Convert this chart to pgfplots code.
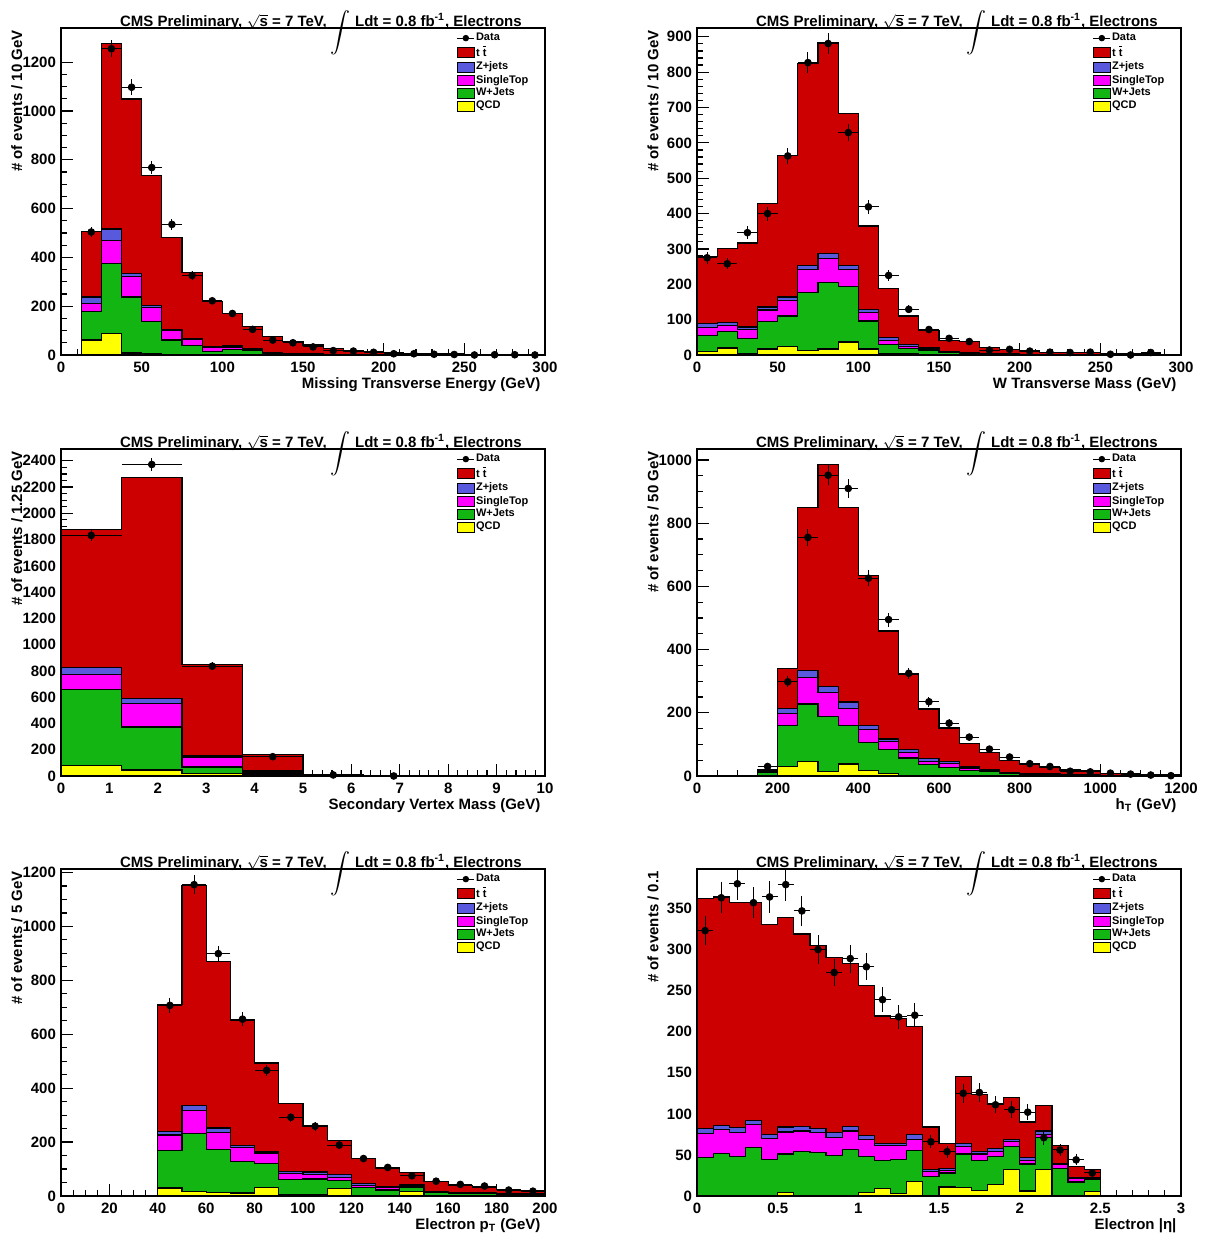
\documentclass[border=0pt]{standalone}
\usepackage{fontspec}
\setmainfont{Liberation Sans}
\usepackage{pgfplots}
\usepackage{pgfplotstable}
\pgfplotsset{compat=1.18}
\definecolor{ttred}{RGB}{204,0,0}
\definecolor{zblue}{RGB}{89,89,222}
\definecolor{stmag}{RGB}{255,0,255}
\definecolor{wgreen}{RGB}{19,181,19}
\definecolor{qyel}{RGB}{255,255,0}

\newcommand{\lfont}{\bfseries\fontsize{7.5}{8}\selectfont}

\pgfplotsset{
 cms/.style={
  scale only axis, width=242pt, height=163.5pt, anchor=south west,
  axis line style={line width=0.7pt},
  tick align=inside, xtick pos=bottom, ytick pos=left,
  major tick length=6pt, minor tick length=3pt,
  tick style={line width=0.6pt, black},
  scaled ticks=false,
  /pgf/number format/1000 sep={},
  /pgf/number format/assume math mode=true,
  tick label style={font=\lfont},
  yticklabel style={xshift=1pt},
  every axis y label/.style={at={(axis description cs:-0.091,1.015)}, rotate=90, anchor=east, font=\lfont},
  every axis x label/.style={at={(axis description cs:1.005,-0.09)}, anchor=east, font=\lfont},
  every axis title shift=0pt,
  title style={at={(axis description cs:0.537,1)}, anchor=base, yshift=0.8pt, inner sep=0pt, font=\lfont},
  title={CMS Preliminary, $\sqrt{\mbox{s}}$ = 7 TeV, \raisebox{-4.8pt}{$\displaystyle\int$} Ldt = 0.8 fb\textsuperscript{-1}, Electrons},
  legend style={draw=none, fill=none, at={(axis description cs:0.817,0.99)}, anchor=north west,
    font=\bfseries\fontsize{5.5}{6}\selectfont, row sep=-0.1pt, inner sep=0pt, nodes={inner sep=0.6pt}},
  legend cell align=left,
  clip=false,
  ymin=0,
 },
 hist/.style={const plot mark left, draw=black, line width=0.6pt, fill=#1, mark=none, forget plot},
 dat/.style={only marks, mark=*, mark size=1.7pt, black, forget plot,
   error bars/.cd, x dir=both, x explicit, y dir=both, y explicit, error mark=none,
   error bar style={line width=0.5pt, black}},
}

\newcommand{\cmslegend}{%
 \addlegendimage{legend image code/.code={\draw[black,line width=0.5pt] (0pt,0pt)--(8.5pt,0pt); \fill[black] (4.25pt,0pt) circle (1.4pt);}}
 \addlegendentry{Data}
 \addlegendimage{legend image code/.code={\draw[fill=ttred,draw=black,line width=0.5pt] (0pt,-2.5pt) rectangle (8.5pt,2.5pt);}}
 \addlegendentry{t $\overline{\mbox{t}}$}
 \addlegendimage{legend image code/.code={\draw[fill=zblue,draw=black,line width=0.5pt] (0pt,-2.5pt) rectangle (8.5pt,2.5pt);}}
 \addlegendentry{Z+jets}
 \addlegendimage{legend image code/.code={\draw[fill=stmag,draw=black,line width=0.5pt] (0pt,-2.5pt) rectangle (8.5pt,2.5pt);}}
 \addlegendentry{SingleTop}
 \addlegendimage{legend image code/.code={\draw[fill=wgreen,draw=black,line width=0.5pt] (0pt,-2.5pt) rectangle (8.5pt,2.5pt);}}
 \addlegendentry{W+Jets}
 \addlegendimage{legend image code/.code={\draw[fill=qyel,draw=black,line width=0.5pt] (0pt,-2.5pt) rectangle (8.5pt,2.5pt);}}
 \addlegendentry{QCD}
}

\newcommand{\stack}[1]{%
 \addplot[hist=ttred] table[x=e,y=tot]{#1} \closedcycle;
 \addplot[hist=zblue] table[x=e,y=z]{#1} \closedcycle;
 \addplot[hist=stmag] table[x=e,y=st]{#1} \closedcycle;
 \addplot[hist=wgreen] table[x=e,y=w]{#1} \closedcycle;
 \addplot[hist=qyel] table[x=e,y=q]{#1} \closedcycle;
}

% ---------- MET ----------
\pgfplotstableread{
e tot z st w q
12.5 507 238 211 177 61
25 1276 516 470 376 87
37.5 1049 335 320 238 8
50 737 203 193 136 6
62.5 481 105 100 61 2
75 337 68 64 38 1
87.5 218 34 32 14 1
100 170 37 31 23 0
112.5 117 26 23 19 0
125 75 8 6 5 0
137.5 56 5 4 3 0
150 41 4 3 2 0
162.5 27 3 2 2 0
175 20 2 2 1 0
187.5 14 2 1 1 0
200 10 1 1 1 0
212.5 7 1 1 0 0
225 5 1 0 0 0
237.5 4 0 0 0 0
250 3 0 0 0 0
262.5 2 0 0 0 0
275 2 0 0 0 0
287.5 1 0 0 0 0
300 1 0 0 0 0
}\metS
\pgfplotstableread{
x y ex ey
18.75 504 6.25 22.4
31.25 1255 6.25 35.4
43.75 1097 6.25 33.1
56.25 768 6.25 27.7
68.75 535 6.25 23.1
81.25 326 6.25 18.1
93.75 222 6.25 14.9
106.25 170 6.25 13.0
118.75 105 6.25 10.2
131.25 61 6.25 7.8
143.75 50 6.25 7.1
156.25 33 6.25 5.7
168.75 18 6.25 4.2
181.25 16 6.25 4.0
193.75 11 6.25 3.3
206.25 5 6.25 2.2
218.75 5 6.25 2.2
231.25 3 6.25 1.7
243.75 2 6.25 1.4
256.25 0 6.25 0
268.75 1 6.25 1
281.25 1 6.25 1
293.75 0 6.25 0
}\metD

% ---------- MT ----------
\pgfplotstableread{
e tot z st w q
0 278 90 77 56 10
12.5 302 93 84 66 20
25 317 79 71 47 4
37.5 429 136 127 94 17
50 565 164 155 110 24
62.5 825 253 241 176 12
75 884 288 273 205 17
87.5 683 252 242 193 37
100 365 128 121 96 17
112.5 188 49 42 30 3
125 110 29 24 19 4
137.5 70 20 16 14 1
150 42 9 8 6 0
162.5 38 7 5 4 0
175 22 5 4 3 0
187.5 16 3 3 2 0
200 11 2 2 1 0
212.5 8 2 1 1 0
225 7 1 1 0 0
237.5 6 1 0 0 0
250 4 0 0 0 0
262.5 4 0 0 0 0
275 3 0 0 0 0
287.5 2 0 0 0 0
300 2 0 0 0 0
}\mtS
\pgfplotstableread{
x y ex ey
6.25 275 6.25 16.6
18.75 258 6.25 16.1
31.25 346 6.25 18.6
43.75 400 6.25 20.0
56.25 563 6.25 23.7
68.75 827 6.25 28.8
81.25 881 6.25 29.7
93.75 629 6.25 25.1
106.25 419 6.25 20.5
118.75 225 6.25 15.0
131.25 129 6.25 11.4
143.75 72 6.25 8.5
156.25 47 6.25 6.9
168.75 38 6.25 6.2
181.25 14 6.25 3.7
193.75 16 6.25 4.0
206.25 11 6.25 3.3
218.75 8 6.25 2.8
231.25 7 6.25 2.6
243.75 8 6.25 2.8
256.25 2 6.25 1.4
268.75 0 6.25 0
281.25 7 6.25 2.6
}\mtD

% ---------- SV mass ----------
\pgfplotstableread{
e tot z st w q
0 1875 829 770 656 79
1.25 2271 588 552 373 46
2.5 851 152 139 68 18
3.75 162 43 35 23 8
5 8 3 2 1 0
6.25 2 0 0 0 0
7.5 0 0 0 0 0
8.75 0 0 0 0 0
10 0 0 0 0 0
}\svS
\pgfplotstableread{
x y ex ey
0.625 1832 0.625 42.8
1.875 2372 0.625 48.7
3.125 836 0.625 28.9
4.375 147 0.625 12.1
5.625 8 0.625 2.8
6.875 0 0.625 0
}\svD

% ---------- HT ----------
\pgfplotstableread{
e tot z st w q
150 20 18 15 12 0
200 340 214 199 160 30
250 849 335 312 228 46
300 986 282 264 189 15
350 849 234 213 160 38
400 634 159 146 106 18
450 459 117 108 85 9
500 320 83 75 57 2
550 212 55 47 37 0
600 152 46 39 28 0
650 102 29 25 18 0
700 74 20 17 13 0
750 48 12 9 8 0
800 37 8 7 6 0
850 26 6 5 4 0
900 19 4 3 3 0
950 16 3 2 2 0
1000 9 2 2 1 0
1050 7 1 1 1 0
1100 5 1 1 0 0
1150 4 0 0 0 0
1200 4 0 0 0 0
}\htS
\pgfplotstableread{
x y ex ey
175 30 25 5.5
225 298 25 17.3
275 755 25 27.5
325 952 25 30.9
375 910 25 30.2
425 626 25 25.0
475 495 25 22.2
525 325 25 18.0
575 235 25 15.3
625 167 25 12.9
675 123 25 11.1
725 85 25 9.2
775 60 25 7.7
825 39 25 6.2
875 30 25 5.5
925 15 25 3.9
975 13 25 3.6
1025 9 25 3.0
1075 6 25 2.4
1125 3 25 1.7
1175 1 25 1.0
}\htD

% ---------- pT ----------
\pgfplotstableread{
e tot z st w q
40 710 238 226 168 30
50 1153 337 318 231 18
60 871 252 237 173 12
70 650 188 179 127 11
80 493 163 157 121 33
90 342 92 83 60 5
100 260 89 81 63 7
110 205 79 70 58 27
120 138 46 39 31 2
130 101 36 31 22 1
140 86 42 37 33 16
150 55 18 15 12 1
160 39 14 12 10 1
170 33 12 10 9 1
180 25 10 8 7 1
190 21 8 7 6 1
200 21 8 7 6 1
}\ptS
\pgfplotstableread{
x y ex ey
45 707 5 26.6
55 1155 5 34.0
65 899 5 30.0
75 656 5 25.6
85 466 5 21.6
95 292 5 17.1
105 259 5 16.1
115 189 5 13.7
125 139 5 11.8
135 106 5 10.3
145 75 5 8.7
155 55 5 7.4
165 43 5 6.6
175 37 5 6.1
185 22 5 4.7
195 18 5 4.2
}\ptD

% ---------- eta ----------
\pgfplotstableread{
e tot z st w q
0.0 362 82 76 47 0
0.1 365 86 81 52 0
0.2 357 83 77 48 0
0.3 357 92 87 59 0
0.4 330 75 70 44 0
0.5 339 84 78 51 4
0.6 319 85 79 54 1
0.7 305 82 77 53 0
0.8 290 77 71 49 0
0.9 283 85 79 57 0
1.0 256 74 69 48 4
1.1 219 64 61 43 9
1.2 216 64 61 44 3
1.3 206 75 69 55 18
1.4 84 32 30 24 0
1.5 64 33 31 28 11
1.6 145 64 60 51 10
1.7 124 54 51 43 7
1.8 113 58 54 48 14
1.9 120 69 66 60 32
2.0 90 47 43 39 6
2.1 110 79 75 71 32
2.2 61 40 38 33 1
2.3 36 23 21 17 1
2.4 32 22 20 20 5
2.5 32 22 20 20 5
}\etaS
\pgfplotstableread{
x y ex ey
0.05 323 0.05 18.0
0.15 363 0.05 19.1
0.25 380 0.05 19.5
0.35 357 0.05 18.9
0.45 364 0.05 19.1
0.55 379 0.05 19.5
0.65 347 0.05 18.6
0.75 300 0.05 17.3
0.85 272 0.05 16.5
0.95 289 0.05 17.0
1.05 279 0.05 16.7
1.15 239 0.05 15.5
1.25 218 0.05 14.8
1.35 220 0.05 14.8
1.45 66 0.05 8.1
1.55 54 0.05 7.3
1.65 125 0.05 11.2
1.75 126 0.05 11.2
1.85 111 0.05 10.5
1.95 105 0.05 10.2
2.05 102 0.05 10.1
2.15 71 0.05 8.4
2.25 56 0.05 7.5
2.35 44 0.05 6.6
2.45 28 0.05 5.3
}\etaD

\begin{document}
\begin{tikzpicture}
\useasboundingbox (0,0) rectangle (608pt,617pt);

% MET
\begin{axis}[cms, at={(30.5pt,439.5pt)},
  xmin=0, xmax=300, ymax=1340,
  xtick={0,50,...,300}, minor x tick num=4,
  ytick={0,200,...,1200}, minor y tick num=3,
  ylabel={\# of events / 10 GeV}, xlabel={Missing Transverse Energy (GeV)}]
\cmslegend
\stack{\metS}
\addplot[dat] table[x=x,y=y,x error=ex,y error=ey]{\metD};
\end{axis}

% MT
\begin{axis}[cms, at={(348.5pt,439.5pt)},
  xmin=0, xmax=300, ymax=925,
  xtick={0,50,...,300}, minor x tick num=4,
  ytick={0,100,...,900}, minor y tick num=4,
  ylabel={\# of events / 10 GeV}, xlabel={W Transverse Mass (GeV)}]
\cmslegend
\stack{\mtS}
\addplot[dat] table[x=x,y=y,x error=ex,y error=ey]{\mtD};
\end{axis}

% SV mass
\begin{axis}[cms, at={(30.5pt,229pt)},
  xmin=0, xmax=10, ymax=2490,
  xtick={0,1,...,10}, minor x tick num=4,
  ytick={0,200,...,2400}, minor y tick num=3,
  ylabel={\# of events / 1.25 GeV}, xlabel={Secondary Vertex Mass (GeV)}]
\cmslegend
\stack{\svS}
\addplot[dat] table[x=x,y=y,x error=ex,y error=ey]{\svD};
\end{axis}

% HT
\begin{axis}[cms, at={(348.5pt,229pt)},
  xmin=0, xmax=1200, ymax=1035,
  xtick={0,200,...,1200}, minor x tick num=3,
  ytick={0,200,...,1000}, minor y tick num=3,
  ylabel={\# of events / 50 GeV}, xlabel={h\textsubscript{T} (GeV)}]
\cmslegend
\stack{\htS}
\addplot[dat] table[x=x,y=y,x error=ex,y error=ey]{\htD};
\end{axis}

% pT
\begin{axis}[cms, at={(30.5pt,19pt)},
  xmin=0, xmax=200, ymax=1213,
  xtick={0,20,...,200}, minor x tick num=3,
  ytick={0,200,...,1200}, minor y tick num=3,
  ylabel={\# of events / 5 GeV}, xlabel={Electron p\textsubscript{T} (GeV)}]
\cmslegend
\stack{\ptS}
\addplot[dat] table[x=x,y=y,x error=ex,y error=ey]{\ptD};
\end{axis}

% eta
\begin{axis}[cms, at={(348.5pt,19pt)},
  xmin=0, xmax=3, ymax=398,
  xtick={0,0.5,...,3}, minor x tick num=4,
  ytick={0,50,...,350}, minor y tick num=4,
  ylabel={\# of events / 0.1}, xlabel={Electron |η|}]
\cmslegend
\stack{\etaS}
\addplot[dat] table[x=x,y=y,x error=ex,y error=ey]{\etaD};
\end{axis}
\end{tikzpicture}
\end{document}
